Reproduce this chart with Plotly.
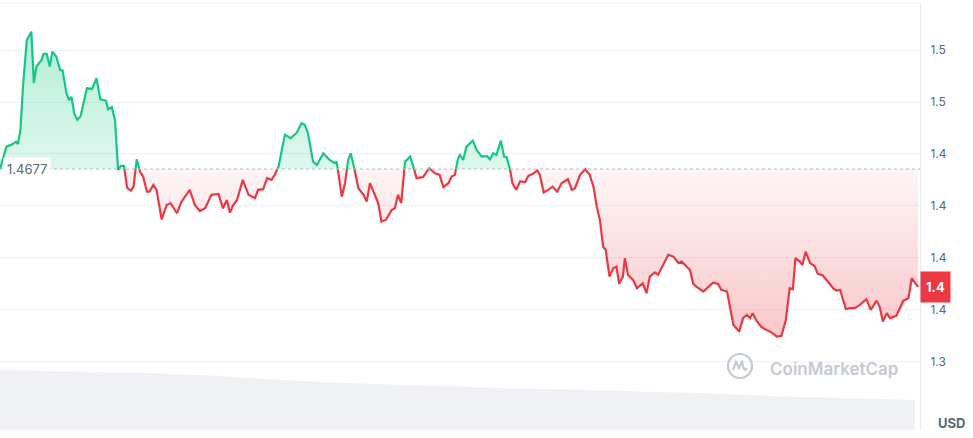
import plotly.graph_objects as go

# ---------------- data ----------------
time_min = [0,6,10,20,25,28,32,36,42,49,53,57,65,68,73,78,82,88,94,98,104,108,112,116,121,126,136,144,151,157,166,169,175,180,184,185,189,194,199,205,209,214,219,224,230,234,240,245,253,261,267,277,284,297,305,313,321,331,342,349,355,360,365,371,380,389,394,399,404,412,418,425,430,436,446,455,464,472,477,482,490,496,506,516,524,527,535,540,545,549,554,561,569,574,579,587,592,597,604,613,618,623,628,634,642,647,652,662,672,681,688,694,702,707,712,717,720,725,730,740,746,754,762,767,772,777,784,789,793,798,802,808,814,822,827,834,841,845,851,858,865,872,879,889,895,900,908,916,923,929,934,939,944,948,954,960,965,969,975,978,983,991,997,1006,1012,1017,1025,1030,1038,1046,1054,1062,1067,1072,1080,1085,1093,1101,1109,1116,1124,1129,1138,1148,1157,1163,1169,1174,1178,1184,1192,1200,1208,1216,1223,1230,1236,1241,1245,1252,1256,1261,1268,1275,1280,1288,1296,1304,1309,1315,1324,1330,1338,1346,1356,1363,1372,1377,1382,1388,1393,1403,1414,1422,1427,1437]

price = [1.4677,1.4737,1.4785,1.4798,1.4809,1.4798,1.4866,1.5074,1.5299,1.5339,1.5092,1.5171,1.5203,1.5232,1.5232,1.5171,1.5243,1.5219,1.5155,1.5151,1.5044,1.5010,1.5025,1.4947,1.4914,1.4930,1.5066,1.5063,1.5115,1.5013,1.5007,1.4965,1.4975,1.4914,1.4689,1.4673,1.4692,1.4692,1.4586,1.4573,1.4592,1.4724,1.4665,1.4641,1.4568,1.4568,1.4601,1.4577,1.4435,1.4504,1.4513,1.4464,1.4520,1.4577,1.4504,1.4475,1.4488,1.4553,1.4557,1.4488,1.4528,1.4467,1.4504,1.4528,1.4625,1.4553,1.4544,1.4537,1.4577,1.4580,1.4633,1.4625,1.4649,1.4689,1.4842,1.4826,1.4850,1.4898,1.4890,1.4850,1.4713,1.4697,1.4753,1.4721,1.4705,1.4713,1.4544,1.4609,1.4721,1.4753,1.4689,1.4585,1.4553,1.4520,1.4609,1.4553,1.4513,1.4424,1.4432,1.4480,1.4488,1.4553,1.4513,1.4713,1.4737,1.4689,1.4633,1.4638,1.4681,1.4657,1.4649,1.4590,1.4609,1.4641,1.4649,1.4729,1.4745,1.4721,1.4785,1.4814,1.4769,1.4737,1.4740,1.4724,1.4753,1.4745,1.4814,1.4737,1.4734,1.4681,1.4609,1.4577,1.4617,1.4614,1.4644,1.4654,1.4670,1.4649,1.4564,1.4577,1.4592,1.4568,1.4609,1.4628,1.4577,1.4585,1.4649,1.4676,1.4649,1.4592,1.4496,1.4432,1.4303,1.4288,1.4159,1.4199,1.4207,1.4124,1.4159,1.4248,1.4167,1.4143,1.4103,1.4127,1.4079,1.4159,1.4179,1.4167,1.4215,1.4264,1.4255,1.4224,1.4231,1.4215,1.4191,1.4124,1.4103,1.4087,1.4111,1.4130,1.4124,1.4095,1.4087,1.3926,1.3894,1.3959,1.3974,1.3959,1.3983,1.3947,1.3915,1.3902,1.3889,1.3870,1.3873,1.3950,1.4103,1.4098,1.4248,1.4231,1.4215,1.4279,1.4224,1.4210,1.4172,1.4164,1.4135,1.4103,1.4092,1.4095,1.4002,1.4007,1.4007,1.4023,1.4050,1.3999,1.4043,1.4012,1.3942,1.3983,1.3959,1.3970,1.4043,1.4055,1.4151,1.4109]

base_price = 1.4677
base_label = "1.4677"
last_label = "1.4"

vol_time = [0,78,157,235,313,391,470,548,626,704,783,861,939,1017,1096,1174,1252,1330,1432]
volume_m = [60,59,58,57,55,52,49,47,45,44,42,41,40,38,37,35,33,32,30]

tick_vals = [1.525, 1.5, 1.475, 1.45, 1.425, 1.4, 1.375]
tick_text = ["1.5", "1.5", "1.4", "1.4", "1.4", "1.4", "1.3"]

GREEN = "#16c784"
RED = "#ea3943"
GREY = "#58667e"
GRID = "#eff2f5"

# ---------- split into above / below baseline ----------
xs, ys = [time_min[0]], [price[0]]
for i in range(1, len(price)):
    y0, y1 = price[i - 1], price[i]
    if (y0 - base_price) * (y1 - base_price) < 0:
        f = (base_price - y0) / (y1 - y0)
        xs.append(time_min[i - 1] + f * (time_min[i] - time_min[i - 1]))
        ys.append(base_price)
    xs.append(time_min[i])
    ys.append(y1)

up = [max(y, base_price) for y in ys]
dn = [min(y, base_price) for y in ys]
green_line = [y if y >= base_price else None for y in ys]
red_line = [y if y <= base_price else None for y in ys]
basel = [base_price] * len(xs)

fig = go.Figure()

# volume area
fig.add_trace(go.Scatter(x=vol_time, y=volume_m, yaxis="y2", mode="lines",
                         line=dict(width=0, color="#eff1f4"), fill="tozeroy",
                         fillcolor="#eff1f4", hoverinfo="skip", showlegend=False))

# green fill
fig.add_trace(go.Scatter(x=xs, y=basel, mode="lines", line=dict(width=0),
                         hoverinfo="skip", showlegend=False))
fig.add_trace(go.Scatter(x=xs, y=up, mode="lines", line=dict(width=0),
                         fill="tonexty",
                         fillgradient=dict(type="vertical", start=base_price, stop=max(price),
                                           colorscale=[[0, "rgba(22,199,132,0.14)"],
                                                       [1, "rgba(22,199,132,0.32)"]]),
                         hoverinfo="skip", showlegend=False))
# red fill
fig.add_trace(go.Scatter(x=xs, y=basel, mode="lines", line=dict(width=0),
                         hoverinfo="skip", showlegend=False))
fig.add_trace(go.Scatter(x=xs, y=dn, mode="lines", line=dict(width=0),
                         fill="tonexty",
                         fillgradient=dict(type="vertical", start=min(price), stop=base_price,
                                           colorscale=[[0, "rgba(234,57,67,0.28)"],
                                                       [1, "rgba(234,57,67,0.05)"]]),
                         hoverinfo="skip", showlegend=False))

# lines
fig.add_trace(go.Scatter(x=xs, y=red_line, mode="lines", connectgaps=False,
                         line=dict(color=RED, width=2.2), showlegend=False))
fig.add_trace(go.Scatter(x=xs, y=green_line, mode="lines", connectgaps=False,
                         line=dict(color=GREEN, width=2.2), showlegend=False))

fig.update_layout(
    width=973, height=438, autosize=False,
    margin=dict(l=0, r=53, t=3, b=8),
    paper_bgcolor="white", plot_bgcolor="white",
    font=dict(family="Inter, Roboto, sans-serif", color=GREY, size=12),
    xaxis=dict(range=[0, 1440], showgrid=False, zeroline=False, showticklabels=False,
               showline=False, fixedrange=True),
    yaxis=dict(range=[1.3420, 1.5477], side="right", tickvals=tick_vals, ticktext=tick_text,
               showgrid=True, gridcolor=GRID, gridwidth=1, zeroline=False,
               showline=True, linecolor="#e6e9ee", linewidth=1, ticks="",
               ticklabelstandoff=7, tickfont=dict(size=12, color=GREY)),
    yaxis2=dict(overlaying="y", range=[0, 427], visible=False, fixedrange=True),
    showlegend=False,
    shapes=[
        dict(type="line", xref="paper", yref="y", x0=0, x1=1, y0=base_price, y1=base_price,
             line=dict(color="#b3bac6", width=1, dash="dot"), layer="above"),
        dict(type="line", xref="paper", yref="paper", x0=0, x1=1, y0=1, y1=1,
             line=dict(color="#eef0f3", width=1)),
        dict(type="circle", xref="paper", yref="paper", x0=0.7913, x1=0.8174, y0=0.1218, y1=0.178,
             line=dict(color="#c4cad4", width=2.2)),
        dict(type="path", xref="paper", yref="paper", xsizemode="pixel", ysizemode="pixel",
             xanchor=0.8043, yanchor=0.1499,
             path="M -7,-4 L -4,4 L -1,-2 L 2,4 L 4,-3 Q 5,-5 7,-2",
             line=dict(color="#c4cad4", width=2.2)),
    ],
    annotations=[
        dict(xref="paper", yref="y", x=0, y=base_price, xanchor="left", yanchor="middle",
             xshift=3, text=base_label, showarrow=False, bgcolor="white", borderpad=3,
             font=dict(size=13, color=GREY)),
        dict(xref="paper", yref="y", x=1, y=price[-1], xanchor="left", yanchor="middle",
             text="<b>" + last_label + "</b>", showarrow=False, bgcolor=RED,
             width=25, height=26, borderpad=2, align="center",
             font=dict(size=13, color="white")),
        dict(xref="paper", yref="paper", x=0.907, y=0.143, xanchor="center", yanchor="middle",
             text="CoinMarketCap", showarrow=False,
             font=dict(size=17, color="#c4cad4", family="Inter, sans-serif", weight=600)),
        dict(xref="paper", yref="paper", x=1.0337, y=0.0164, xanchor="center", yanchor="middle",
             text="<b>USD</b>", showarrow=False, font=dict(size=13, color=GREY)),
    ],
)

fig.write_html("out.html", config={"displayModeBar": False},
               post_script="document.body.style.margin='0';document.body.style.overflow='hidden';")
